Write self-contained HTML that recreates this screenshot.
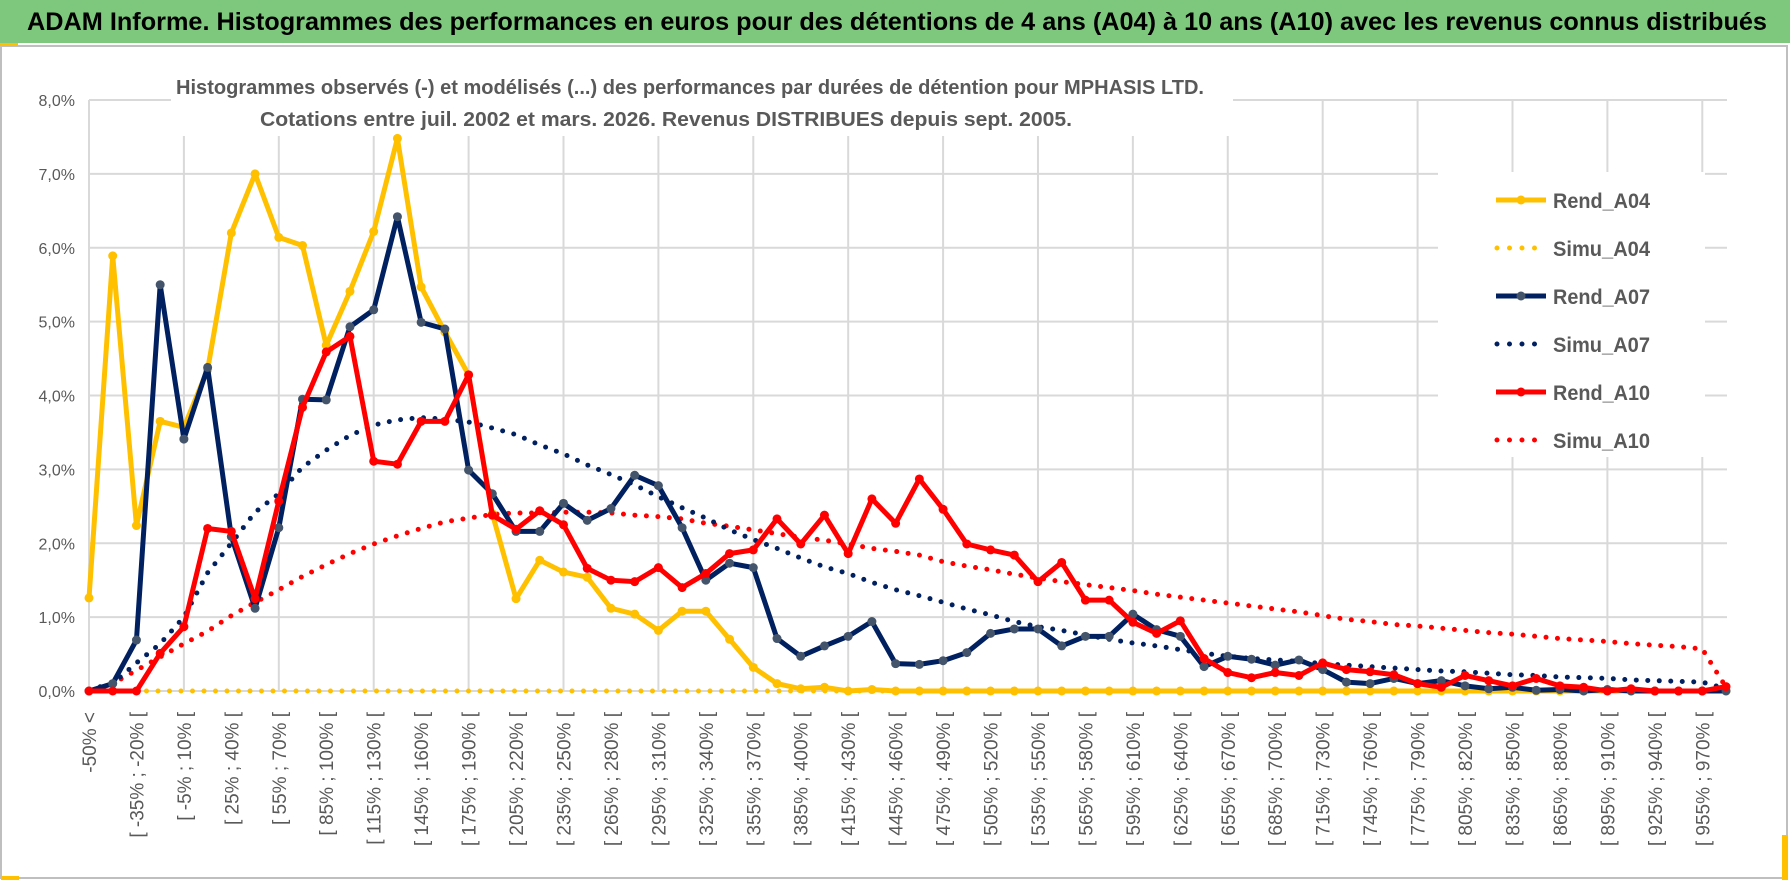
<!DOCTYPE html>
<html><head><meta charset="utf-8">
<style>
html,body{margin:0;padding:0;background:#fff;}
svg{display:block;font-family:"Liberation Sans",sans-serif;}
</style></head>
<body>
<svg id="chart" width="1790" height="888" viewBox="0 0 1790 888" xmlns="http://www.w3.org/2000/svg">
  <rect x="0" y="0" width="1790" height="888" fill="#fff"/>
  <rect x="1" y="46" width="1786" height="832" fill="none" stroke="#bfbfbf" stroke-width="2"/>
  <rect x="0" y="0" width="1790" height="43" fill="#7dc87d"/>
  <rect x="0" y="43" width="18" height="3" fill="#ffc000"/>
  <rect x="1" y="876" width="18" height="4" fill="#ffc000"/>
  <rect x="1782" y="835" width="6" height="45" fill="#ffc000"/>
  <text x="27" y="30" font-size="25" font-weight="bold" fill="#000" textLength="1740" lengthAdjust="spacingAndGlyphs">ADAM Informe. Histogrammes des performances en euros pour des détentions de 4 ans (A04) à 10 ans (A10) avec les revenus connus distribués</text>
  <g id="grid"></g>
  <rect x="171" y="62" width="1062" height="74" fill="#fff"/>
  <text x="176" y="94" font-size="20" font-weight="bold" fill="#595959" textLength="1028" lengthAdjust="spacingAndGlyphs">Histogrammes observés (-) et modélisés (...) des performances par durées de détention pour MPHASIS LTD.</text>
  <text x="260" y="126" font-size="20" font-weight="bold" fill="#595959" textLength="812" lengthAdjust="spacingAndGlyphs">Cotations entre juil. 2002 et mars. 2026. Revenus DISTRIBUES depuis sept. 2005.</text>
  <g id="yaxis"></g>
  <g id="xaxis"></g>
  <g id="series"></g>
  <g id="legend"></g>
</svg>
<script>
const yTicks = [0,1,2,3,4,5,6,7,8];
const yTickLabels = ["0,0%","1,0%","2,0%","3,0%","4,0%","5,0%","6,0%","7,0%","8,0%"];
const nCategories = 70;
const rendA04 = [1.26,5.89,2.24,3.65,3.57,4.35,6.2,7.0,6.14,6.03,4.68,5.41,6.22,7.48,5.47,4.86,4.28,2.4,1.25,1.77,1.61,1.54,1.12,1.04,0.82,1.08,1.08,0.70,0.32,0.10,0.03,0.05,0.0,0.02,0.0,0,0,0,0,0,0,0,0,0,0,0,0,0,0,0,0,0,0,0,0,0,0,0,0,0,0,0,0,0,0,0,0,0,0,0];
const simuA04 = [0,0,0,0,0,0,0,0,0,0,0,0,0,0,0,0,0,0,0,0,0,0,0,0,0,0,0,0,0,0,0,0,0,0,0,0,0,0,0,0,0,0,0,0,0,0,0,0,0,0,0,0,0,0,0,0,0,0,0,0,0,0,0,0,0,0,0,0,0,0];
const rendA07 = [0,0.1,0.69,5.5,3.41,4.38,2.09,1.12,2.21,3.95,3.94,4.93,5.16,6.42,4.99,4.90,2.99,2.67,2.16,2.16,2.54,2.31,2.47,2.92,2.78,2.21,1.50,1.73,1.67,0.71,0.47,0.61,0.74,0.94,0.37,0.36,0.41,0.52,0.78,0.84,0.84,0.61,0.74,0.74,1.04,0.83,0.74,0.33,0.47,0.43,0.35,0.42,0.29,0.12,0.10,0.17,0.10,0.14,0.07,0.03,0.05,0.01,0.02,0.0,0.02,0.0,0.0,0.0,0.0,0.0];
const simuA07 = [0.02,0.1,0.38,0.64,1.0,1.6,2.0,2.42,2.67,3.03,3.26,3.46,3.6,3.67,3.7,3.68,3.64,3.56,3.47,3.33,3.21,3.06,2.93,2.79,2.63,2.48,2.34,2.18,2.05,1.93,1.80,1.68,1.59,1.47,1.37,1.29,1.20,1.11,1.03,0.94,0.87,0.82,0.76,0.70,0.65,0.61,0.56,0.51,0.47,0.44,0.42,0.40,0.37,0.35,0.33,0.31,0.29,0.27,0.26,0.24,0.22,0.21,0.19,0.18,0.17,0.15,0.14,0.13,0.12,0.03];
const rendA10 = [0,0,0,0.51,0.87,2.2,2.16,1.25,2.57,3.84,4.59,4.80,3.11,3.07,3.65,3.65,4.28,2.38,2.19,2.44,2.25,1.66,1.50,1.48,1.67,1.40,1.59,1.86,1.91,2.33,1.99,2.38,1.86,2.60,2.27,2.87,2.46,1.99,1.91,1.84,1.48,1.74,1.23,1.23,0.93,0.78,0.95,0.44,0.25,0.18,0.25,0.21,0.38,0.29,0.26,0.22,0.10,0.05,0.21,0.14,0.07,0.17,0.07,0.05,0.0,0.03,0.0,0.0,0.0,0.06];
const simuA10 = [0,0.1,0.28,0.46,0.64,0.81,1.02,1.2,1.37,1.55,1.71,1.86,1.99,2.1,2.2,2.29,2.34,2.39,2.41,2.41,2.42,2.42,2.41,2.38,2.36,2.33,2.27,2.23,2.18,2.13,2.08,2.04,1.99,1.93,1.89,1.84,1.75,1.69,1.64,1.58,1.53,1.48,1.44,1.40,1.36,1.31,1.27,1.23,1.19,1.15,1.11,1.07,1.02,0.97,0.94,0.90,0.88,0.85,0.82,0.79,0.77,0.74,0.71,0.69,0.67,0.64,0.62,0.60,0.57,0.05];
const seriesNames = ["Rend_A04","Simu_A04","Rend_A07","Simu_A07","Rend_A10","Simu_A10"];

const NS = "http://www.w3.org/2000/svg";
const X0 = 89, X1 = 1726, Y0 = 691, Y8 = 100;
function xPos(i){ return X0 + i*(X1-X0)/(nCategories-1); }
function yPos(v){ return Y0 - v*(Y0-Y8)/8; }
function mk(tag, attrs, parent){ const e=document.createElementNS(NS,tag); for(const k in attrs) e.setAttribute(k,attrs[k]); parent.appendChild(e); return e; }
function catLabel(i){ if(i===0) return "-50% <"; const lo=-50+15*(i-1); return "[ "+lo+"% ; "+(lo+15)+"% ["; }

const grid = document.getElementById('grid');
yTicks.forEach(function(t){
  const l = mk('line',{x1:X0,x2:1727,y1:yPos(t),y2:yPos(t),stroke:'#d9d9d9','stroke-width':2},grid);
  
  
});
for(let i=0;i<nCategories;i+=4){
  const l = mk('line',{x1:xPos(i),x2:xPos(i),y1:Y8,y2:Y0,stroke:'#d9d9d9','stroke-width':2},grid);
  
  
}
const yaxis = document.getElementById('yaxis');
yTicks.forEach(function(t,k){
  const tx = mk('text',{x:75,y:yPos(t)+6,'text-anchor':'end','font-size':16,fill:'#595959'},yaxis);
  tx.textContent = yTickLabels[k];
  
  
});
const xaxis = document.getElementById('xaxis');
for(let i=0;i<nCategories;i+=2){
  const x = xPos(i)+7, y = 712;
  const tx = mk('text',{x:x,y:y,'text-anchor':'end','font-size':19,fill:'#595959',transform:'rotate(-90 '+x+' '+y+')'},xaxis);
  tx.textContent = catLabel(i);
  
  
}
const sg = document.getElementById('series');
function drawDotted(vals,color,name){
  const pts = vals.map(function(v,i){return xPos(i)+','+yPos(v);}).join(' ');
  const p = mk('polyline',{points:pts,fill:'none',stroke:color,'stroke-width':5,'stroke-linecap':'round','stroke-dasharray':'0 11.5','stroke-linejoin':'round'},sg);
  
  
}
function drawSolid(vals,color,mcolor,name){
  const pts = vals.map(function(v,i){return xPos(i)+','+yPos(v);}).join(' ');
  const p = mk('polyline',{points:pts,fill:'none',stroke:color,'stroke-width':5,'stroke-linejoin':'round'},sg);
  
  
  vals.forEach(function(v,i){
    const c = mk('circle',{cx:xPos(i),cy:yPos(v),r:4.5,fill:mcolor},sg);
    
    
  });
}
drawDotted(simuA04,'#ffc000','simu-a04-line');
drawDotted(simuA10,'#ff0000','simu-a10-line');
drawDotted(simuA07,'#002060','simu-a07-line');
drawSolid(rendA04,'#ffc000','#ffc000','rend-a04-line');
drawSolid(rendA07,'#002060','#44546a','rend-a07-line');
drawSolid(rendA10,'#ff0000','#ff0000','rend-a10-line');

const lg = document.getElementById('legend');
mk('rect',{x:1438,y:172,width:267,height:285,fill:'#fff'},lg);
const lcol = ['#ffc000','#ffc000','#002060','#002060','#ff0000','#ff0000'];
const lmk = ['#ffc000','#ffc000','#44546a','#002060','#ff0000','#ff0000'];
seriesNames.forEach(function(n,k){
  const y = 200 + k*48;
  const g = mk('g',{},lg);
  
  
  if(k%2===0){
    mk('line',{x1:1496,x2:1546,y1:y,y2:y,stroke:lcol[k],'stroke-width':5},g);
    mk('circle',{cx:1521,cy:y,r:4.5,fill:lmk[k]},g);
  } else {
    mk('line',{x1:1497,x2:(k===5?1545:1537),y1:y,y2:y,stroke:lcol[k],'stroke-width':5,'stroke-linecap':'round','stroke-dasharray':'0 12.5'},g);
  }
  const t = mk('text',{x:1553,y:y+8,'font-size':21,'font-weight':'bold',fill:'#595959',textLength:97,lengthAdjust:'spacingAndGlyphs'},g);
  t.textContent = n;
});
</script>
</body></html>
